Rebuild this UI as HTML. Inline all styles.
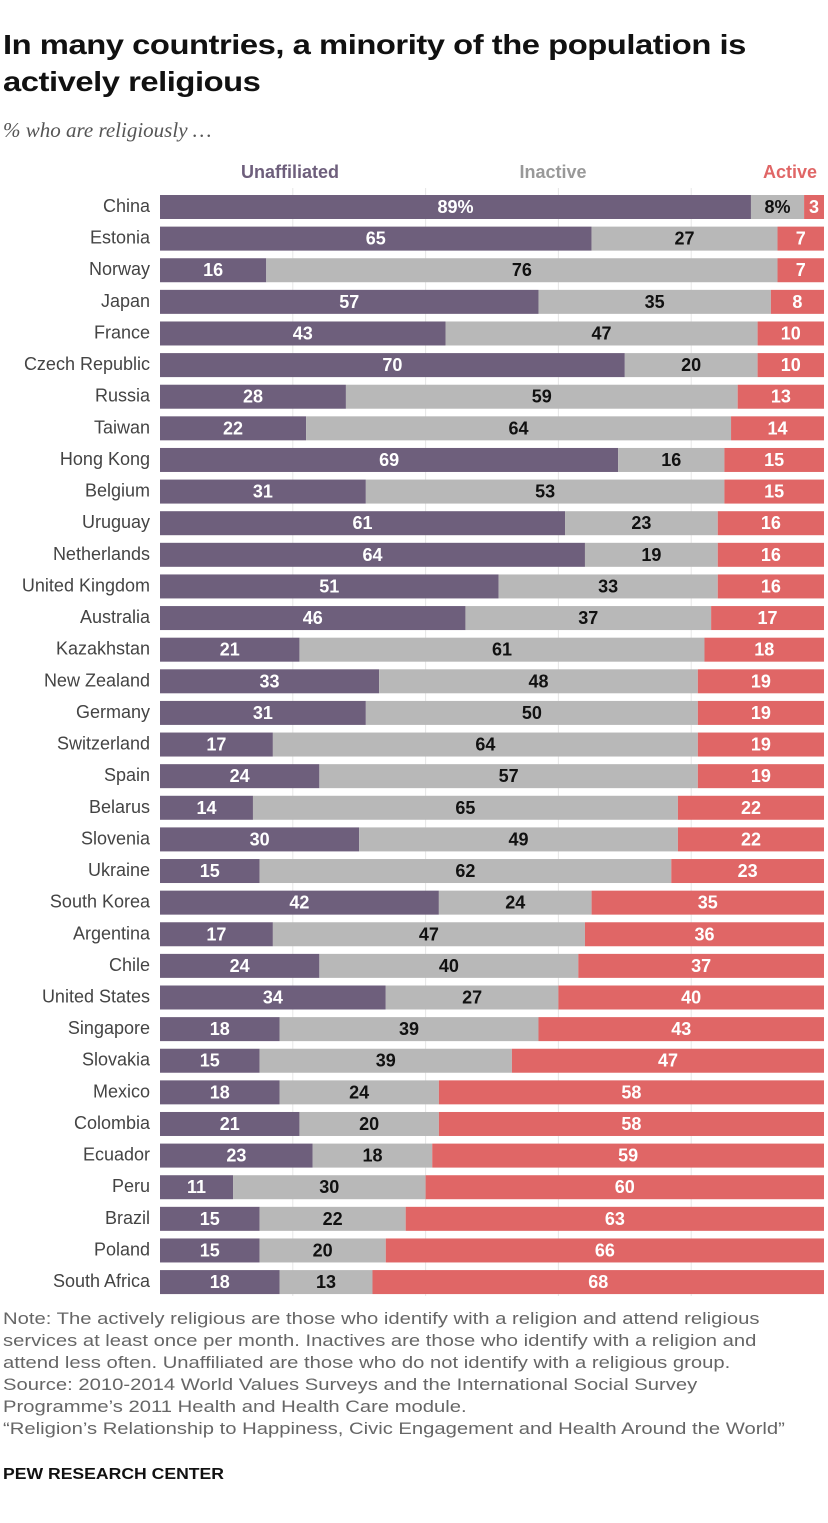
<!DOCTYPE html>
<html><head><meta charset="utf-8"><style>
body{margin:0;background:#fff;font-family:"Liberation Sans",sans-serif;}
#root{position:relative;width:828px;height:1523px;overflow:hidden;}
h1{position:absolute;left:3px;top:26px;margin:0;font-size:28px;line-height:37px;font-weight:bold;color:#111;white-space:nowrap;letter-spacing:-0.4px;transform:scaleX(1.17);transform-origin:0 0}
.sub{position:absolute;left:3px;top:118px;font-family:"Liberation Serif",serif;font-style:italic;font-size:21px;color:#555}
.note{position:absolute;left:3px;top:1308px;font-size:17px;line-height:22px;color:#666;white-space:nowrap;transform:scaleX(1.19);transform-origin:0 0}
.brand{position:absolute;left:3px;top:1466px;font-size:16px;font-weight:bold;color:#111;transform:scaleX(1.1);transform-origin:0 0}
</style></head><body><div id="root">
<h1>In many countries, a minority of the population is<br>actively religious</h1>
<div class="sub">% who are religiously …</div>
<svg id="chart" width="828" height="1300" style="position:absolute;left:0;top:0"></svg>
<div class="note">Note: The actively religious are those who identify with a religion and attend religious<br>services at least once per month. Inactives are those who identify with a religion and<br>attend less often. Unaffiliated are those who do not identify with a religious group.<br>Source: 2010-2014 World Values Surveys and the International Social Survey<br>Programme’s 2011 Health and Health Care module.<br>“Religion’s Relationship to Happiness, Civic Engagement and Health Around the World”</div>
<div class="brand">PEW RESEARCH CENTER</div>
</div>
<script>
const countries=["China","Estonia","Norway","Japan","France","Czech Republic","Russia","Taiwan","Hong Kong","Belgium","Uruguay","Netherlands","United Kingdom","Australia","Kazakhstan","New Zealand","Germany","Switzerland","Spain","Belarus","Slovenia","Ukraine","South Korea","Argentina","Chile","United States","Singapore","Slovakia","Mexico","Colombia","Ecuador","Peru","Brazil","Poland","South Africa"];
const unaffiliated=[89,65,16,57,43,70,28,22,69,31,61,64,51,46,21,33,31,17,24,14,30,15,42,17,24,34,18,15,18,21,23,11,15,15,18];
const inactive=[8,27,76,35,47,20,59,64,16,53,23,19,33,37,61,48,50,64,57,65,49,62,24,47,40,27,39,39,24,20,18,30,22,20,13];
const active=[3,7,7,8,10,10,13,14,15,15,16,16,16,17,18,19,19,19,19,22,22,23,35,36,37,40,43,47,58,58,59,60,63,66,68];
const gridTicks=[20,40,60,80];
const svg=document.getElementById('chart');const NS="http://www.w3.org/2000/svg";
const X0=160,W=664,Y0=195,P=31.62,H=24;
const x=v=>X0+v/100*W, y=i=>Y0+i*P;
function mk(t,a){const e=document.createElementNS(NS,t);for(const k in a)e.setAttribute(k,a[k]);svg.appendChild(e);return e;}
gridTicks.forEach(t=>{const g=mk('line',{x1:x(t),x2:x(t),y1:188,y2:1296,stroke:'#e6e6e6'});

});
[["Unaffiliated",290,"#6e5f7c"],["Inactive",553,"#999"],["Active",790,"#e06666"]].forEach(h=>{const t=mk('text',{x:h[1],y:178,'text-anchor':'middle','font-size':18,'font-weight':'bold',fill:h[2]});t.textContent=h[0];

});
countries.forEach((c,i)=>{const yy=y(i);
const l=mk('text',{x:150,y:yy+17,'text-anchor':'end','font-size':18,fill:'#444'});l.textContent=c;


const ua=x(unaffiliated[i]),as=x(100-active[i]);
const b1=mk('rect',{x:X0,y:yy,width:ua-X0,height:H,fill:'#6e5f7c'});


const b2=mk('rect',{x:ua,y:yy,width:Math.max(0,as-ua),height:H,fill:'#b8b8b8'});


const b3=mk('rect',{x:as,y:yy,width:X0+W-as,height:H,fill:'#e06666'});


const sfx=i===0?'%':'';
[[unaffiliated[i]+sfx,(X0+ua)/2,'#fff'],[inactive[i]+sfx,(ua+as)/2,'#111'],[active[i],(as+X0+W)/2,'#fff']].forEach(v=>{
const t=mk('text',{x:v[1],y:yy+18,'text-anchor':'middle','font-size':18,'font-weight':'bold',fill:v[2]});t.textContent=v[0];

});
});
</script></body></html>
